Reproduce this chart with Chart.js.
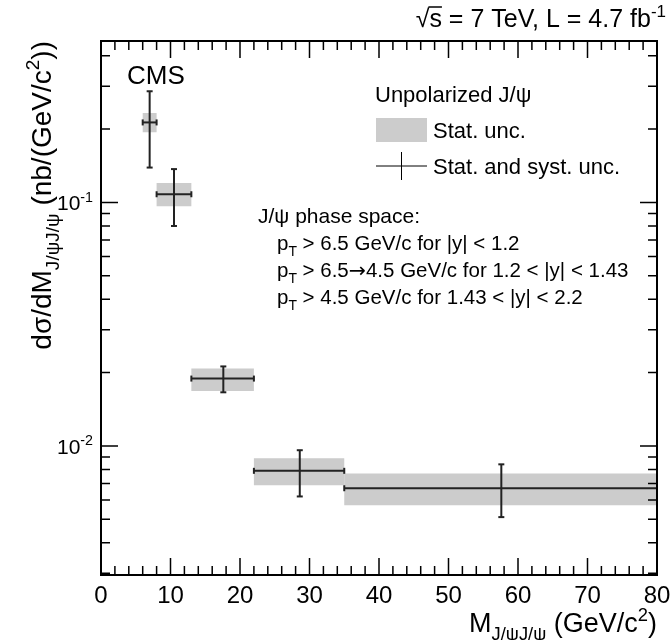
<!DOCTYPE html>
<html lang="en">
<head>
  <meta charset="UTF-8">
  <title>J/psi pair cross section</title>
  <script src="https://cdn.jsdelivr.net/npm/chart.js"></script>
  <style>body { margin: 0; background: #fff; }</style>
</head>
<body>
  <canvas id="myChart" width="670" height="640"></canvas>
  <script>
    // bins in M(J/psi J/psi), GeV/c^2
    const binLow = [6, 8, 13, 22, 35];
    const binHigh = [8, 13, 22, 35, 80];
    const binCenter = [7.0, 10.5, 17.6, 28.6, 57.6];
    // d sigma / dM, nb/(GeV/c^2)
    const xsec = [0.213, 0.108, 0.0189, 0.0079, 0.0067];
    const statLow = [0.194, 0.0963, 0.0168, 0.0069, 0.0057];
    const statHigh = [0.233, 0.120, 0.0208, 0.0089, 0.0077];
    const totLow = [0.139, 0.080, 0.0166, 0.0062, 0.0051];
    const totHigh = [0.286, 0.137, 0.0212, 0.0096, 0.0084];
    const xTickValues = [0, 10, 20, 30, 40, 50, 60, 70, 80];
    const yTickValues = [0.01, 0.1];
    const yTickExponents = ['-2', '-1'];

    const FONT = '"Liberation Sans", Arial, Helvetica, sans-serif';
    const LINE = '#222';

    const datasets = [];
    // stat. uncertainty boxes
    for (let i = 0; i < xsec.length; i++) {
      datasets.push({
        type: 'line',
        order: 3,
        data: [
          {x: binLow[i], y: statLow[i]}, {x: binHigh[i], y: statLow[i]},
          {x: binHigh[i], y: statHigh[i]}, {x: binLow[i], y: statHigh[i]},
          {x: binLow[i], y: statLow[i]}
        ],
        borderWidth: 0,
        borderColor: 'rgba(0,0,0,0)',
        backgroundColor: '#cccccc',
        pointRadius: 0,
        fill: 'shape'
      });
    }
    // bin width and total uncertainty lines
    for (let i = 0; i < xsec.length; i++) {
      datasets.push({
        type: 'line', order: 1,
        data: [{x: binLow[i], y: xsec[i]}, {x: binHigh[i], y: xsec[i]}],
        borderColor: LINE, borderWidth: 2, pointRadius: 0, fill: false
      });
      datasets.push({
        type: 'line', order: 1,
        data: [{x: binCenter[i], y: totLow[i]}, {x: binCenter[i], y: totHigh[i]}],
        borderColor: LINE, borderWidth: 2, pointRadius: 0, fill: false
      });
    }
    // end caps
    datasets.push({
      type: 'scatter', order: 0,
      data: binLow.map((v, i) => ({x: v, y: xsec[i]})).concat(binHigh.map((v, i) => ({x: v, y: xsec[i]}))),
      pointStyle: 'line', rotation: 90, pointRadius: 3, borderWidth: 2, borderColor: LINE
    });
    datasets.push({
      type: 'scatter', order: 0,
      data: binCenter.map((v, i) => ({x: v, y: totLow[i]})).concat(binCenter.map((v, i) => ({x: v, y: totHigh[i]}))),
      pointStyle: 'line', rotation: 0, pointRadius: 3, borderWidth: 2, borderColor: LINE
    });

    // text with sub/superscripts: parts = [[text, 'n'|'sub'|'sup', family?], ...]
    function rich(ctx, parts, x, y, size, align) {
      let w = 0;
      const items = parts.map(([t, m, fam]) => {
        const s = m === 'n' ? size : size * 0.68;
        const f = s + 'px ' + (fam || FONT);
        ctx.font = f;
        const tw = ctx.measureText(t).width;
        const item = {t, m, f, tw, x0: w};
        w += tw;
        return item;
      });
      const start = align === 'right' ? x - w : align === 'center' ? x - w / 2 : x;
      ctx.textAlign = 'left';
      ctx.textBaseline = 'alphabetic';
      items.forEach(it => {
        ctx.font = it.f;
        const dy = it.m === 'sub' ? size * 0.3 : it.m === 'sup' ? -size * 0.42 : 0;
        ctx.fillText(it.t, start + it.x0, y + dy);
      });
      return {start, items};
    }

    const framePlugin = {
      id: 'rootFrame',
      afterDraw(chart) {
        const ctx = chart.ctx;
        const a = chart.chartArea;
        const xs = chart.scales.x, ys = chart.scales.y;
        ctx.save();
        ctx.fillStyle = '#000';
        ctx.strokeStyle = '#000';

        // ticks
        ctx.lineWidth = 1.5;
        ctx.beginPath();
        for (let v = 0; v <= 80; v += 2) {
          const px = xs.getPixelForValue(v);
          const len = v % 10 === 0 ? 17 : 9;
          ctx.moveTo(px, a.bottom); ctx.lineTo(px, a.bottom - len);
          ctx.moveTo(px, a.top); ctx.lineTo(px, a.top + len);
        }
        for (let e = -3; e <= -1; e++) {
          for (let k = 1; k <= 9; k++) {
            const v = k * Math.pow(10, e);
            if (v < ys.min * 0.999 || v > ys.max) continue;
            const py = ys.getPixelForValue(v);
            const len = k === 1 ? 17 : 9;
            ctx.moveTo(a.left, py); ctx.lineTo(a.left + len, py);
            ctx.moveTo(a.right, py); ctx.lineTo(a.right - len, py);
          }
        }
        ctx.stroke();

        // frame
        ctx.lineWidth = 2;
        ctx.strokeRect(a.left, a.top, a.right - a.left, a.bottom - a.top);

        // tick labels
        ctx.font = '24px ' + FONT;
        ctx.textAlign = 'center';
        ctx.textBaseline = 'alphabetic';
        xTickValues.forEach(v => {
          ctx.fillText(String(v), xs.getPixelForValue(v), a.bottom + 28);
        });
        yTickValues.forEach((v, i) => {
          rich(ctx, [['10', 'n'], [yTickExponents[i], 'sup']], a.left - 8, ys.getPixelForValue(v) + 8, 21, 'right');
        });

        // axis titles
        rich(ctx, [['M', 'n'], ['J/\u03C8J/\u03C8', 'sub'], [' (GeV/c', 'n'], ['2', 'sup'], [')', 'n']],
          a.right, 632, 27, 'right');
        ctx.save();
        ctx.translate(51, a.top);
        ctx.rotate(-Math.PI / 2);
        rich(ctx, [['d\u03C3/dM', 'n'], ['J/\u03C8J/\u03C8', 'sub'], [' (nb/(GeV/c', 'n'], ['2', 'sup'], ['))', 'n']],
          0, 0, 28, 'right');
        ctx.restore();

        // top right label, with a bar over the s of sqrt(s)
        const top = rich(ctx, [['\u221A', 'n'], ['s = 7 TeV, L = 4.7 fb', 'n'], ['-1', 'sup']], 666, 27, 25, 'right');
        ctx.font = '25px ' + FONT;
        const sx = top.start + top.items[1].x0;
        ctx.lineWidth = 1.5;
        ctx.beginPath();
        ctx.moveTo(sx - 1, 27 - 20); ctx.lineTo(sx + ctx.measureText('s').width, 27 - 20);
        ctx.stroke();

        // CMS
        ctx.font = '26px ' + FONT;
        ctx.textAlign = 'left';
        ctx.fillText('CMS', 127, 84);

        // legend
        rich(ctx, [['Unpolarized J/\u03C8', 'n']], 375, 102, 22, 'left');
        ctx.fillStyle = '#cccccc';
        ctx.fillRect(376, 118, 51, 24);
        ctx.fillStyle = '#000';
        rich(ctx, [['Stat. unc.', 'n']], 433, 138, 22, 'left');
        ctx.lineWidth = 1;
        ctx.beginPath();
        ctx.moveTo(376, 166); ctx.lineTo(427, 166);
        ctx.moveTo(401.5, 152); ctx.lineTo(401.5, 180);
        ctx.stroke();
        rich(ctx, [['Stat. and syst. unc.', 'n']], 433, 174, 22, 'left');

        // phase space text
        rich(ctx, [['J/\u03C8 phase space:', 'n']], 258, 223, 21, 'left');
        rich(ctx, [['p', 'n'], ['T', 'sub'], [' > 6.5 GeV/c for |y| < 1.2', 'n']], 277, 250, 20.5, 'left');
        rich(ctx, [['p', 'n'], ['T', 'sub'], [' > 6.5', 'n'], ['\u2192', 'n', '"DejaVu Sans", sans-serif'], ['4.5 GeV/c for 1.2 < |y| < 1.43', 'n']], 277, 277, 20.5, 'left');
        rich(ctx, [['p', 'n'], ['T', 'sub'], [' > 4.5 GeV/c for 1.43 < |y| < 2.2', 'n']], 277, 304, 20.5, 'left');
        ctx.restore();
      }
    };

    const ctx = document.getElementById('myChart').getContext('2d');
    const myChart = new Chart(ctx, {
      type: 'line',
      data: {datasets: datasets},
      options: {
        responsive: false,
        animation: false,
        layout: {padding: {left: 101, top: 41, right: 13, bottom: 65}},
        plugins: {legend: {display: false}, tooltip: {enabled: false}},
        scales: {
          x: {type: 'linear', min: 0, max: 80, display: false},
          y: {type: 'logarithmic', min: 0.00295, max: 0.46, display: false}
        }
      },
      plugins: [framePlugin]
    });
  </script>
</body>
</html>
